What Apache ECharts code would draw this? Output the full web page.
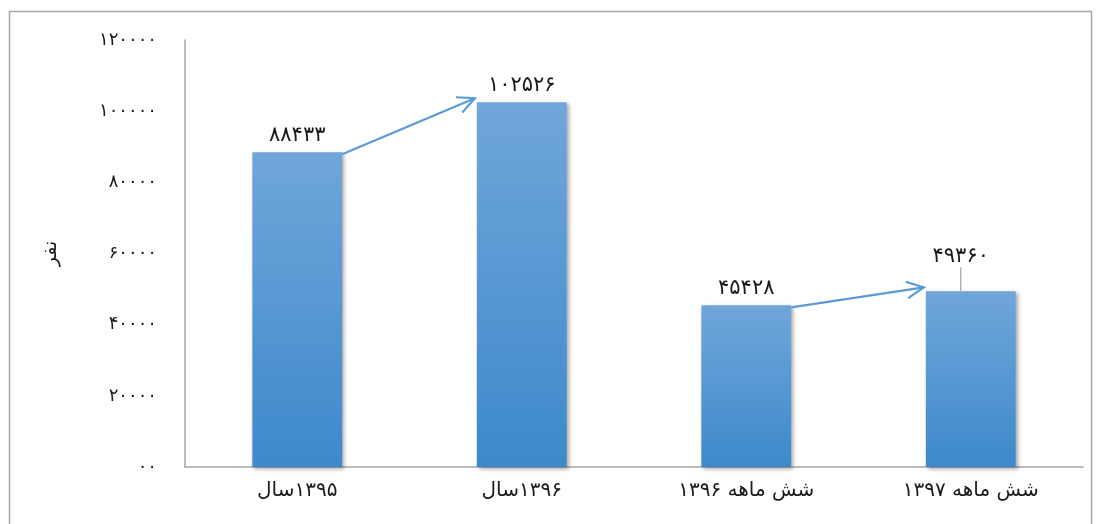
<!DOCTYPE html>
<html>
<head>
<meta charset="utf-8">
<script src="https://cdn.jsdelivr.net/npm/echarts@6/dist/echarts.min.js"></script>
<style>html,body{margin:0;padding:0;background:#fff;}#c{width:1097px;height:524px;}</style>
</head>
<body>
<div id="c"></div>
<script>
// categories in logical (right-to-left) order
var categories = ['۱۳۹۵سال', '۱۳۹۶سال', 'شش ماهه ۱۳۹۶', 'شش ماهه ۱۳۹۷'];
var values = [88433, 102526, 45428, 49360];
var yTicks = [0, 20000, 40000, 60000, 80000, 100000, 120000];
var yTickLabels = ['۰۰', '۲۰۰۰۰', '۴۰۰۰۰', '۶۰۰۰۰', '۸۰۰۰۰', '۱۰۰۰۰۰', '۱۲۰۰۰۰'];
var arrows = [[0, 1], [2, 3]];
var yName = 'نفر';

function fa(n) {
  var d = '۰۱۲۳۴۵۶۷۸۹';
  return String(n).replace(/[0-9]/g, function (c) { return d[+c]; });
}
// right-to-left layout: words / digit groups placed from right to left
function pieces(s) {
  var parts = s.match(/([\u06F0-\u06F9]+|[^\s\u06F0-\u06F9]+|\s+)/g) || [s];
  return parts.reverse().map(function (p) {
    return /^\s+$/.test(p) ? '{s|\u00A0}' : '{w|' + p + '}';
  }).join('');
}

var FONT = 'DejaVu Sans';
var chart = echarts.init(document.getElementById('c'), null, {renderer: 'canvas'});

var barData = values.map(function (v, i) {
  if (i === 3) {
    return {value: v, labelLine: {show: true, lineStyle: {color: '#a6a6a6', width: 1.2}}};
  }
  return v;
});

chart.setOption({
  animation: false,
  backgroundColor: '#fff',
  graphic: [{
    type: 'rect', silent: true, z: -10,
    shape: {x: 9.5, y: 11.5, width: 1082, height: 530},
    style: {fill: 'none', stroke: '#a6a6a6', lineWidth: 1.5}
  }],
  grid: {left: 185, right: 14, top: 40, bottom: 57, containLabel: false},
  xAxis: {
    type: 'category',
    data: categories,
    axisLine: {lineStyle: {color: '#a6a6a6', width: 1.5}},
    axisTick: {show: false},
    axisLabel: {
      margin: 14,
      formatter: function (v) { return pieces(v); },
      rich: {
        w: {color: '#1a1a1a', fontSize: 20, fontFamily: FONT},
        s: {color: '#1a1a1a', fontSize: 20, fontFamily: FONT}
      }
    }
  },
  yAxis: {
    type: 'value',
    min: 0, max: 120000, interval: 20000,
    name: yName,
    nameLocation: 'middle',
    nameRotate: 90,
    nameGap: 124,
    nameTextStyle: {color: '#1a1a1a', fontSize: 19, fontFamily: FONT},
    splitLine: {show: false},
    axisLine: {show: true, lineStyle: {color: '#a6a6a6', width: 1.5}},
    axisTick: {show: false},
    axisLabel: {
      color: '#1a1a1a', fontSize: 18, fontFamily: FONT, margin: 28,
      formatter: function (v) {
        var i = yTicks.indexOf(v);
        return i >= 0 ? yTickLabels[i] : fa(v);
      }
    }
  },
  series: [{
    type: 'bar',
    data: barData,
    barWidth: '40%',
    itemStyle: {
      color: new echarts.graphic.LinearGradient(0, 0, 0, 1, [
        {offset: 0, color: '#70a6da'},
        {offset: 1, color: '#3d89cb'}
      ]),
      shadowColor: 'rgba(0,0,0,0.35)',
      shadowBlur: 4,
      shadowOffsetX: 2,
      shadowOffsetY: 2
    },
    label: {
      show: true, position: 'top', distance: 6,
      color: '#1a1a1a', fontSize: 21, fontFamily: FONT,
      formatter: function (p) { return fa(p.value); }
    },
    labelLayout: function (p) {
      return p.dataIndex === 3 ? {dx: -10, dy: -18} : {};
    }
  }, {
    type: 'custom',
    data: arrows,
    encode: {x: 0},
    z: 5,
    silent: true,
    renderItem: function (params, api) {
      var a = api.value(0), b = api.value(1);
      var p1 = api.coord([a, values[a]]);
      var p2 = api.coord([b, values[b]]);
      var bw = api.size([1, 0])[0] * 0.4;
      var x1 = p1[0] + bw / 2, y1 = p1[1] + 2;
      var x2 = p2[0] - bw / 2 - 2, y2 = p2[1] - 4;
      var ang = Math.atan2(y2 - y1, x2 - x1);
      var L = 19, spread = Math.PI / 7;
      var h1 = [x2 - L * Math.cos(ang - spread), y2 - L * Math.sin(ang - spread)];
      var h2 = [x2 - L * Math.cos(ang + spread), y2 - L * Math.sin(ang + spread)];
      var st = {stroke: '#5b9bd5', lineWidth: 2.2, fill: 'none'};
      return {
        type: 'group',
        children: [
          {type: 'line', shape: {x1: x1, y1: y1, x2: x2, y2: y2}, style: st},
          {type: 'polyline', shape: {points: [h1, [x2, y2], h2]}, style: st}
        ]
      };
    }
  }]
});
</script>
</body>
</html>
